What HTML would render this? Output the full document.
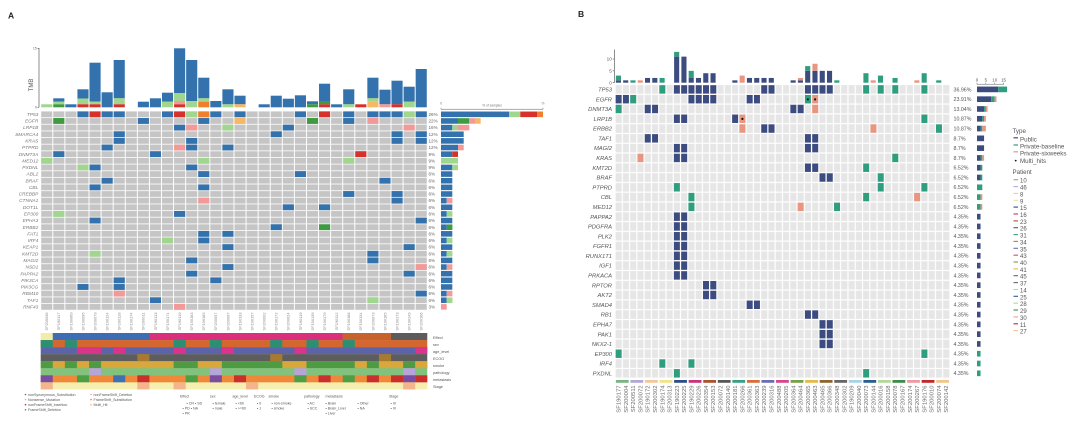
<!DOCTYPE html>
<html><head><meta charset="utf-8"><style>
html,body{margin:0;padding:0;background:#fff;width:1080px;height:426px;overflow:hidden}
svg{display:block;font-family:"Liberation Sans",Arial,sans-serif}
.ab{fill:#3372ad}.ar{fill:#d7312b}.alg{fill:#a0d68e}.ag{fill:#3f9b3f}.ap{fill:#f39a98}.ao{fill:#ef7f2c}.alo{fill:#f7b866}
.bn{fill:#3d4c80}.bt{fill:#2e9e7e}.bs{fill:#e99580}
.gi{font-style:italic}
</style></head><body>
<svg width="1080" height="426" viewBox="0 0 1080 426" xmlns="http://www.w3.org/2000/svg">
<defs>
<pattern id="pa" width="1" height="1" patternUnits="userSpaceOnUse"><rect x=".04" y=".06" width=".92" height=".88" fill="#c5c5c5"/></pattern>
<pattern id="pb" width="1" height="1" patternUnits="userSpaceOnUse"><rect x=".08" y=".06" width=".84" height=".88" fill="#e6e6e6"/></pattern>
<rect id="ca" x=".04" y=".06" width=".92" height=".88"/>
<rect id="cb" x=".09" y=".07" width=".82" height=".86"/>
</defs>

<!-- ============ PANEL A ============ -->
<text x="8" y="18.5" font-size="8.5" font-weight="bold" fill="#222">A</text>

<g stroke="#444" stroke-width=".6">
<line x1="39" y1="48" x2="39" y2="107.3"/>
<line x1="37.6" y1="48.3" x2="39" y2="48.3"/>
<line x1="37.6" y1="107.3" x2="39" y2="107.3"/>
</g>
<text x="36.8" y="49.6" font-size="3.5" text-anchor="end" fill="#666">15</text>
<text x="36.8" y="108.6" font-size="3.5" text-anchor="end" fill="#666">0</text>
<text transform="translate(33 85) rotate(-90)" font-size="6" text-anchor="middle" fill="#555">TMB</text>

<g transform="translate(40.7 0) scale(12.08 1)">
<rect class="alg" x=".04" y="104.3" width=".92" height="3"/>
<rect class="ab" x="1.04" y="98.3" width=".92" height="3.2"/><rect class="alg" x="1.04" y="101.5" width=".92" height="2.8"/><rect class="ag" x="1.04" y="104.3" width=".92" height="3"/>
<rect class="ab" x="2.04" y="104.3" width=".92" height="3"/>
<rect class="ab" x="3.04" y="89.3" width=".92" height="9.2"/><rect class="alg" x="3.04" y="98.5" width=".92" height="5.8"/><rect class="ar" x="3.04" y="104.3" width=".92" height="3"/>
<rect class="ab" x="4.04" y="62.7" width=".92" height="38.8"/><rect class="alg" x="4.04" y="101.5" width=".92" height="2.8"/><rect class="ar" x="4.04" y="104.3" width=".92" height="3"/>
<rect class="ab" x="5.04" y="92.3" width=".92" height="15"/>
<rect class="ab" x="6.04" y="60" width=".92" height="38.3"/><rect class="alg" x="6.04" y="98.3" width=".92" height="6"/><rect class="ar" x="6.04" y="104.3" width=".92" height="3"/>
<rect class="ab" x="8.04" y="101.7" width=".92" height="5.6"/>
<rect class="ab" x="9.04" y="98.3" width=".92" height="9"/>
<rect class="ab" x="10.04" y="92.7" width=".92" height="9"/><rect class="alg" x="10.04" y="101.7" width=".92" height="5.6"/>
<rect class="ab" x="11.04" y="48.3" width=".92" height="44.7"/><rect class="alg" x="11.04" y="93" width=".92" height="8"/><rect class="ap" x="11.04" y="101" width=".92" height="3.3"/><rect class="ar" x="11.04" y="104.3" width=".92" height="3"/>
<rect class="ab" x="12.04" y="60" width=".92" height="41"/><rect class="alg" x="12.04" y="101" width=".92" height="6.3"/>
<rect class="ab" x="13.04" y="77.7" width=".92" height="20.6"/><rect class="alg" x="13.04" y="98.3" width=".92" height="3.4"/><rect class="ao" x="13.04" y="101.7" width=".92" height="5.6"/>
<rect class="ab" x="14.04" y="101" width=".92" height="6.3"/>
<rect class="ab" x="15.04" y="89.3" width=".92" height="15"/><rect class="alg" x="15.04" y="104.3" width=".92" height="3"/>
<rect class="ab" x="16.04" y="95.7" width=".92" height="8.6"/><rect class="alo" x="16.04" y="104.3" width=".92" height="3"/>
<rect class="ab" x="18.04" y="104.3" width=".92" height="3"/>
<rect class="ab" x="19.04" y="95.7" width=".92" height="11.6"/>
<rect class="ab" x="20.04" y="98.7" width=".92" height="8.6"/>
<rect class="ab" x="21.04" y="95.3" width=".92" height="12"/>
<rect class="ab" x="22.04" y="101.3" width=".92" height="3"/><rect class="ag" x="22.04" y="104.3" width=".92" height="3"/>
<rect class="ab" x="23.04" y="83.7" width=".92" height="17.3"/><rect class="ag" x="23.04" y="101" width=".92" height="3.3"/><rect class="ar" x="23.04" y="104.3" width=".92" height="3"/>
<rect class="ab" x="24.04" y="104.3" width=".92" height="3"/>
<rect class="ab" x="25.04" y="89.3" width=".92" height="15"/><rect class="alg" x="25.04" y="104.3" width=".92" height="3"/>
<rect class="ar" x="26.04" y="104.3" width=".92" height="3"/>
<rect class="ab" x="27.04" y="77.7" width=".92" height="20.6"/><rect class="alg" x="27.04" y="98.3" width=".92" height="3.4"/><rect class="alo" x="27.04" y="101.7" width=".92" height="5.6"/>
<rect class="ab" x="28.04" y="89.7" width=".92" height="14.6"/><rect class="ap" x="28.04" y="104.3" width=".92" height="3"/>
<rect class="ab" x="29.04" y="80.7" width=".92" height="23.6"/><rect class="ar" x="29.04" y="104.3" width=".92" height="3"/>
<rect class="ab" x="30.04" y="86.7" width=".92" height="15"/><rect class="alg" x="30.04" y="101.7" width=".92" height="5.6"/>
<rect class="ab" x="31.04" y="69" width=".92" height="38.3"/>
</g>

<g transform="translate(40.7 111) scale(12.08 6.64)">
<rect width="32" height="30" fill="url(#pa)"/>
<g class="ab">
<use href="#ca" x="3" y="0"/><use href="#ca" x="5" y="0"/><use href="#ca" x="6" y="0"/><use href="#ca" x="10" y="0"/><use href="#ca" x="14" y="0"/><use href="#ca" x="16" y="0"/><use href="#ca" x="21" y="0"/><use href="#ca" x="25" y="0"/><use href="#ca" x="27" y="0"/><use href="#ca" x="28" y="0"/><use href="#ca" x="29" y="0"/><use href="#ca" x="31" y="0"/>
<use href="#ca" x="8" y="1"/><use href="#ca" x="13" y="1"/><use href="#ca" x="25" y="1"/>
<use href="#ca" x="11" y="2"/><use href="#ca" x="20" y="2"/>
<use href="#ca" x="6" y="3"/><use href="#ca" x="19" y="3"/><use href="#ca" x="29" y="3"/><use href="#ca" x="31" y="3"/>
<use href="#ca" x="6" y="4"/><use href="#ca" x="12" y="4"/><use href="#ca" x="29" y="4"/><use href="#ca" x="31" y="4"/>
<use href="#ca" x="5" y="5"/><use href="#ca" x="12" y="5"/><use href="#ca" x="15" y="5"/>
<use href="#ca" x="1" y="6"/><use href="#ca" x="9" y="6"/>
<use href="#ca" x="4" y="8"/><use href="#ca" x="12" y="8"/>
<use href="#ca" x="13" y="9"/><use href="#ca" x="21" y="9"/>
<use href="#ca" x="5" y="10"/><use href="#ca" x="28" y="10"/>
<use href="#ca" x="4" y="11"/><use href="#ca" x="13" y="11"/>
<use href="#ca" x="25" y="12"/><use href="#ca" x="29" y="12"/>
<use href="#ca" x="29" y="13"/>
<use href="#ca" x="20" y="14"/><use href="#ca" x="23" y="14"/>
<use href="#ca" x="11" y="15"/>
<use href="#ca" x="4" y="16"/><use href="#ca" x="31" y="16"/>
<use href="#ca" x="19" y="17"/>
<use href="#ca" x="13" y="18"/><use href="#ca" x="15" y="18"/>
<use href="#ca" x="13" y="19"/>
<use href="#ca" x="15" y="20"/><use href="#ca" x="30" y="20"/>
<use href="#ca" x="27" y="21"/>
<use href="#ca" x="12" y="22"/><use href="#ca" x="27" y="22"/>
<use href="#ca" x="15" y="23"/>
<use href="#ca" x="12" y="24"/><use href="#ca" x="30" y="24"/>
<use href="#ca" x="6" y="25"/><use href="#ca" x="14" y="25"/>
<use href="#ca" x="3" y="26"/><use href="#ca" x="6" y="26"/>
<use href="#ca" x="31" y="27"/>
<use href="#ca" x="9" y="28"/>
</g>
<g class="ar"><use href="#ca" x="4" y="0"/><use href="#ca" x="11" y="0"/><use href="#ca" x="23" y="0"/><use href="#ca" x="26" y="6"/></g>
<g class="alg"><use href="#ca" x="12" y="0"/><use href="#ca" x="30" y="0"/><use href="#ca" x="15" y="2"/><use href="#ca" x="0" y="7"/><use href="#ca" x="13" y="7"/><use href="#ca" x="25" y="7"/><use href="#ca" x="3" y="8"/><use href="#ca" x="1" y="15"/><use href="#ca" x="10" y="19"/><use href="#ca" x="4" y="21"/><use href="#ca" x="27" y="28"/></g>
<g class="ag"><use href="#ca" x="1" y="1"/><use href="#ca" x="22" y="1"/><use href="#ca" x="23" y="17"/></g>
<g class="ap"><use href="#ca" x="27" y="1"/><use href="#ca" x="12" y="2"/><use href="#ca" x="30" y="2"/><use href="#ca" x="11" y="5"/><use href="#ca" x="13" y="13"/><use href="#ca" x="31" y="23"/><use href="#ca" x="6" y="27"/><use href="#ca" x="11" y="29"/></g>
<g class="ao"><use href="#ca" x="13" y="0"/></g>
<g class="alo"><use href="#ca" x="16" y="1"/></g>
</g>

<g font-size="4.8" fill="#777" text-anchor="end" class="gi">
<text x="38.3" y="115.9">TP53</text><text x="38.3" y="122.6">EGFR</text><text x="38.3" y="129.2">LRP1B</text><text x="38.3" y="135.8">SMARCA4</text><text x="38.3" y="142.5">KRAS</text><text x="38.3" y="149.1">PTPRD</text><text x="38.3" y="155.8">DNMT3A</text><text x="38.3" y="162.4">MED12</text><text x="38.3" y="169">PXDNL</text><text x="38.3" y="175.7">ABL2</text><text x="38.3" y="182.3">BRAF</text><text x="38.3" y="189">CBL</text><text x="38.3" y="195.6">CREBBP</text><text x="38.3" y="202.2">CTNNA1</text><text x="38.3" y="208.9">DOT1L</text><text x="38.3" y="215.5">EP300</text><text x="38.3" y="222.2">EPHA3</text><text x="38.3" y="228.8">ERBB2</text><text x="38.3" y="235.4">FAT1</text><text x="38.3" y="242.1">IRF4</text><text x="38.3" y="248.7">KEAP1</text><text x="38.3" y="255.4">KMT2D</text><text x="38.3" y="262">MAGI2</text><text x="38.3" y="268.6">NSD1</text><text x="38.3" y="275.3">PAPPA2</text><text x="38.3" y="281.9">PIK3CA</text><text x="38.3" y="288.6">PIK3CG</text><text x="38.3" y="295.2">RBM10</text><text x="38.3" y="301.8">TAF1</text><text x="38.3" y="308.5">RNF43</text>
</g>

<g font-size="4.6" fill="#666">
<text x="428.5" y="115.9">26%</text><text x="428.5" y="122.6">22%</text><text x="428.5" y="129.2">16%</text><text x="428.5" y="135.8">12%</text><text x="428.5" y="142.5">12%</text><text x="428.5" y="149.1">12%</text><text x="428.5" y="155.8">9%</text><text x="428.5" y="162.4">9%</text><text x="428.5" y="169">9%</text><text x="428.5" y="175.7">6%</text><text x="428.5" y="182.3">6%</text><text x="428.5" y="189">6%</text><text x="428.5" y="195.6">6%</text><text x="428.5" y="202.2">6%</text><text x="428.5" y="208.9">6%</text><text x="428.5" y="215.5">6%</text><text x="428.5" y="222.2">6%</text><text x="428.5" y="228.8">6%</text><text x="428.5" y="235.4">6%</text><text x="428.5" y="242.1">6%</text><text x="428.5" y="248.7">6%</text><text x="428.5" y="255.4">6%</text><text x="428.5" y="262">6%</text><text x="428.5" y="268.6">6%</text><text x="428.5" y="275.3">6%</text><text x="428.5" y="281.9">6%</text><text x="428.5" y="288.6">6%</text><text x="428.5" y="295.2">6%</text><text x="428.5" y="301.8">6%</text><text x="428.5" y="308.5">3%</text>
</g>

<g stroke="#555" stroke-width=".5">
<line x1="441" y1="109.2" x2="543" y2="109.2"/><line x1="441" y1="107.8" x2="441" y2="109.2"/><line x1="543" y1="107.8" x2="543" y2="109.2"/>
</g>
<text x="441" y="104.5" font-size="3.3" text-anchor="middle" fill="#777">0</text>
<text x="492" y="106.5" font-size="3.3" text-anchor="middle" fill="#777">% of samples</text>
<text x="543" y="104.5" font-size="3.3" text-anchor="middle" fill="#777">%</text>

<g transform="translate(0 111) scale(1 6.64)">
<rect class="ab" x="441" y=".08" width="68" height=".84"/><rect class="alg" x="509" y=".08" width="11.3" height=".84"/><rect class="ar" x="520.3" y=".08" width="17" height=".84"/><rect class="ao" x="537.3" y=".08" width="5.7" height=".84"/>
<rect class="ab" x="441" y="1.08" width="17" height=".84"/><rect class="ag" x="458" y="1.08" width="11.3" height=".84"/><rect class="ap" x="469.3" y="1.08" width="5.7" height=".84"/><rect class="alo" x="475" y="1.08" width="5.7" height=".84"/>
<rect class="ab" x="441" y="2.08" width="11.3" height=".84"/><rect class="alg" x="452.3" y="2.08" width="5.7" height=".84"/><rect class="ap" x="458" y="2.08" width="11.3" height=".84"/>
<rect class="ab" x="441" y="3.08" width="22.7" height=".84"/>
<rect class="ab" x="441" y="4.08" width="22.7" height=".84"/>
<rect class="ab" x="441" y="5.08" width="17" height=".84"/><rect class="ap" x="458" y="5.08" width="5.7" height=".84"/>
<rect class="ab" x="441" y="6.08" width="11.3" height=".84"/><rect class="ar" x="452.3" y="6.08" width="5.7" height=".84"/>
<rect class="alg" x="441" y="7.08" width="17" height=".84"/>
<rect class="ab" x="441" y="8.08" width="11.3" height=".84"/><rect class="alg" x="452.3" y="8.08" width="5.7" height=".84"/>
<rect class="ab" x="441" y="9.08" width="11.3" height=".84"/>
<rect class="ab" x="441" y="10.08" width="11.3" height=".84"/>
<rect class="ab" x="441" y="11.08" width="11.3" height=".84"/>
<rect class="ab" x="441" y="12.08" width="11.3" height=".84"/>
<rect class="ab" x="441" y="13.08" width="5.7" height=".84"/><rect class="ap" x="446.7" y="13.08" width="5.7" height=".84"/>
<rect class="ab" x="441" y="14.08" width="11.3" height=".84"/>
<rect class="ab" x="441" y="15.08" width="5.7" height=".84"/><rect class="alg" x="446.7" y="15.08" width="5.7" height=".84"/>
<rect class="ab" x="441" y="16.08" width="11.3" height=".84"/>
<rect class="ab" x="441" y="17.08" width="5.7" height=".84"/><rect class="ag" x="446.7" y="17.08" width="5.7" height=".84"/>
<rect class="ab" x="441" y="18.08" width="11.3" height=".84"/>
<rect class="ab" x="441" y="19.08" width="5.7" height=".84"/><rect class="alg" x="446.7" y="19.08" width="5.7" height=".84"/>
<rect class="ab" x="441" y="20.08" width="11.3" height=".84"/>
<rect class="ab" x="441" y="21.08" width="5.7" height=".84"/><rect class="alg" x="446.7" y="21.08" width="5.7" height=".84"/>
<rect class="ab" x="441" y="22.08" width="11.3" height=".84"/>
<rect class="ab" x="441" y="23.08" width="5.7" height=".84"/><rect class="ap" x="446.7" y="23.08" width="5.7" height=".84"/>
<rect class="ab" x="441" y="24.08" width="11.3" height=".84"/>
<rect class="ab" x="441" y="25.08" width="11.3" height=".84"/>
<rect class="ab" x="441" y="26.08" width="11.3" height=".84"/>
<rect class="ab" x="441" y="27.08" width="5.7" height=".84"/><rect class="ap" x="446.7" y="27.08" width="5.7" height=".84"/>
<rect class="ab" x="441" y="28.08" width="5.7" height=".84"/><rect class="alg" x="446.7" y="28.08" width="5.7" height=".84"/>
<rect class="ap" x="441" y="29.08" width="5.7" height=".84"/>
</g>

<g transform="translate(0 312.5) rotate(-90)" font-size="3.9" fill="#888" text-anchor="end">
<text x="0" y="48.1">SF200036</text><text x="0" y="60.2">SF190117</text><text x="0" y="72.3">SF190069</text><text x="0" y="84.3">SF190095</text><text x="0" y="96.4">SF200079</text><text x="0" y="108.5">SF190124</text><text x="0" y="120.6">SF200118</text><text x="0" y="132.7">SF190174</text><text x="0" y="144.7">SF200011</text><text x="0" y="156.8">SF190113</text><text x="0" y="168.9">SF190174</text><text x="0" y="181">SF190119</text><text x="0" y="193.1">SF190163</text><text x="0" y="205.1">SF190165</text><text x="0" y="217.2">SF200057</text><text x="0" y="229.3">SF200097</text><text x="0" y="241.4">SF190133</text><text x="0" y="253.5">SF190157</text><text x="0" y="265.5">SF200002</text><text x="0" y="277.6">SF190172</text><text x="0" y="289.7">SF200024</text><text x="0" y="301.8">SF190119</text><text x="0" y="313.9">SF190139</text><text x="0" y="325.9">SF190179</text><text x="0" y="338">SF190112</text><text x="0" y="350.1">SF190168</text><text x="0" y="362.2">SF190134</text><text x="0" y="374.3">SF200073</text><text x="0" y="386.3">SF190165</text><text x="0" y="398.4">SF190173</text><text x="0" y="410.5">SF190149</text><text x="0" y="422.6">SF200166</text>
</g>

<g transform="translate(40.7 333) scale(12.08 7.05)">
<rect x="0" y="0" width="1.02" height="1.02" fill="#f1eca6"/>
<rect x="1" y="0" width="8.02" height="1.02" fill="#3d6db2"/>
<rect x="9" y="0" width="16.02" height="1.02" fill="#d9307c"/>
<rect x="25" y="0" width="4.02" height="1.02" fill="#c8622c"/>
<rect x="29" y="0" width="3" height="1.02" fill="#5c5c5c"/>
<rect x="0" y="1" width="32" height="1.02" fill="#d4662f"/>
<g fill="#2c8f74"><rect x="0" y="1" width="1" height="1.02"/><rect x="2" y="1" width="1" height="1.02"/><rect x="11" y="1" width="1" height="1.02"/><rect x="14" y="1" width="1" height="1.02"/><rect x="19" y="1" width="1" height="1.02"/><rect x="22" y="1" width="1" height="1.02"/><rect x="25" y="1" width="1" height="1.02"/></g>
<rect x="0" y="2" width="32" height="1.02" fill="#5c63a8"/>
<g fill="#d7348a"><rect x="3" y="2" width="2" height="1.02"/><rect x="6" y="2" width="1" height="1.02"/><rect x="11" y="2" width="1" height="1.02"/><rect x="15" y="2" width="1" height="1.02"/><rect x="21" y="2" width="1" height="1.02"/><rect x="31" y="2" width="1" height="1.02"/></g>
<rect x="0" y="3" width="32" height="1.02" fill="#5d5d5d"/>
<g fill="#a87a31"><rect x="8" y="3" width="1" height="1.02"/><rect x="19" y="3" width="1" height="1.02"/><rect x="28" y="3" width="1" height="1.02"/></g>
<rect x="0" y="4" width="32" height="1.02" fill="#4f9b44"/>
<g fill="#d8a83c"><rect x="1" y="4" width="1" height="1.02"/><rect x="3" y="4" width="1" height="1.02"/><rect x="5" y="4" width="6" height="1.02"/><rect x="13" y="4" width="2" height="1.02"/><rect x="20" y="4" width="2" height="1.02"/><rect x="26" y="4" width="1" height="1.02"/><rect x="28" y="4" width="2" height="1.02"/><rect x="31" y="4" width="1" height="1.02"/></g>
<rect x="0" y="5" width="32" height="1.02" fill="#82c27d"/>
<g fill="#b7a4d8"><rect x="4" y="5" width="1" height="1.02"/><rect x="14" y="5" width="1" height="1.02"/><rect x="21" y="5" width="1" height="1.02"/><rect x="30" y="5" width="1" height="1.02"/></g>
<rect x="0" y="6" width="32" height="1.02" fill="#ef8838"/>
<g fill="#7a4e9f"><rect x="0" y="6" width="1" height="1.02"/><rect x="14" y="6" width="1" height="1.02"/><rect x="30" y="6" width="1" height="1.02"/></g>
<g fill="#4e9e45"><rect x="3" y="6" width="1" height="1.02"/><rect x="12" y="6" width="1" height="1.02"/><rect x="21" y="6" width="1" height="1.02"/><rect x="25" y="6" width="1" height="1.02"/></g>
<rect x="6" y="6" width="1" height="1.02" fill="#3f70b2"/>
<g fill="#cb2f2b"><rect x="8" y="6" width="1" height="1.02"/><rect x="16" y="6" width="1" height="1.02"/><rect x="23" y="6" width="1" height="1.02"/><rect x="27" y="6" width="1" height="1.02"/><rect x="29" y="6" width="1" height="1.02"/><rect x="31" y="6" width="1" height="1.02"/></g>
<rect x="0" y="7" width="32" height="1" fill="#f6efb0"/>
<g fill="#f4b48c"><rect x="0" y="7" width="1" height="1"/><rect x="8" y="7" width="1" height="1"/><rect x="11" y="7" width="1" height="1"/><rect x="17" y="7" width="1" height="1"/><rect x="30" y="7" width="1" height="1"/></g>
</g>
<g font-size="3.8" fill="#555">
<text x="433" y="338.8">Effect</text><text x="433" y="345.8">sex</text><text x="433" y="352.9">age_level</text><text x="433" y="359.9">ECOG</text><text x="433" y="367">smoke</text><text x="433" y="374">pathology</text><text x="433" y="381.1">metastasis</text><text x="433" y="388.1">Stage</text>
</g>

<g font-size="3.6" fill="#555">
<circle cx="25.5" cy="394.5" r=".8" fill="#3372ad"/><text x="28" y="395.8">nonSynonymous_Substitution</text>
<circle cx="25.5" cy="399.6" r=".8" fill="#a0d68e"/><text x="28" y="400.9">Nonsense_Mutation</text>
<circle cx="25.5" cy="404.7" r=".8" fill="#d7312b"/><text x="28" y="406">nonFrameShift_Insertion</text>
<circle cx="25.5" cy="409.8" r=".8" fill="#3f9b3f"/><text x="28" y="411.1">FrameShift_Deletion</text>
<circle cx="91" cy="394.5" r=".8" fill="#f39a98"/><text x="93.5" y="395.8">nonFrameShift_Deletion</text>
<circle cx="91" cy="399.6" r=".8" fill="#ef7f2c"/><text x="93.5" y="400.9">FrameShift_Substitution</text>
<circle cx="91" cy="404.7" r=".8" fill="#f7b866"/><text x="93.5" y="406">Multi_Hit</text>

<text x="180" y="397.5">Effect</text><text x="210" y="397.5">sex</text><text x="232.5" y="397.5">age_level</text><text x="254" y="397.5">ECOG</text><text x="268.5" y="397.5">smoke</text><text x="304" y="397.5">pathology</text><text x="325.5" y="397.5">metastasis</text><text x="389" y="397.5">Stage</text>

<text x="186.5" y="404.3">• CR  • SD</text>
<text x="182.5" y="409.3">• PD  • NA</text>
<text x="182.5" y="414.3">• PR</text>
<text x="212.5" y="404.3">• female</text><text x="212.5" y="409.3">• male</text>
<text x="235.5" y="404.3">• &lt;60</text><text x="235.5" y="409.3">• &gt;=60</text>
<text x="257" y="404.3">• 0</text><text x="257" y="409.3">• 1</text>
<text x="271.5" y="404.3">• non-smoke</text><text x="271.5" y="409.3">• smoke</text>
<text x="307.5" y="404.3">• AC</text><text x="307.5" y="409.3">• SCC</text>
<text x="325.5" y="404.3">• Brain</text><text x="325.5" y="409.3">• Brain_Liver</text><text x="325.5" y="414.3">• Liver</text>
<text x="357.5" y="404.3">• Other</text><text x="357.5" y="409.3">• NA</text>
<text x="390.5" y="404.3">• III</text><text x="390.5" y="409.3">• IV</text>
</g>

<!-- ============ PANEL B ============ -->
<text x="578" y="17" font-size="8.5" font-weight="bold" fill="#222">B</text>

<g stroke="#444" stroke-width=".6">
<line x1="614.3" y1="49.5" x2="614.3" y2="82.7"/>
<line x1="612.8" y1="59" x2="614.3" y2="59"/><line x1="612.8" y1="70.85" x2="614.3" y2="70.85"/><line x1="612.8" y1="82.7" x2="614.3" y2="82.7"/>
</g>
<g font-size="4.6" fill="#555" text-anchor="end">
<text x="611.8" y="60.6">10</text><text x="611.8" y="72.4">5</text><text x="611.8" y="84.3">0</text>
</g>

<g transform="translate(615 82.7) scale(7.28 -2.37)">
<g class="bn">
<rect x=".12" y="0" width=".7" height="1"/><rect x="1.12" y="0" width=".7" height="1"/><rect x="4.12" y="0" width=".7" height="2"/><rect x="5.12" y="0" width=".7" height="2"/><rect x="8.12" y="0" width=".7" height="11"/><rect x="9.12" y="0" width=".7" height="11"/><rect x="10.12" y="0" width=".7" height="2"/><rect x="11.12" y="0" width=".7" height="2"/><rect x="12.12" y="0" width=".7" height="4"/><rect x="13.12" y="0" width=".7" height="4"/><rect x="16.12" y="0" width=".7" height="1"/><rect x="18.12" y="0" width=".7" height="2"/><rect x="19.12" y="0" width=".7" height="2"/><rect x="20.12" y="0" width=".7" height="2"/><rect x="21.12" y="0" width=".7" height="2"/><rect x="24.12" y="0" width=".7" height="1"/><rect x="25.12" y="0" width=".7" height="1"/><rect x="26.12" y="0" width=".7" height="5"/><rect x="27.12" y="0" width=".7" height="5"/><rect x="28.12" y="0" width=".7" height="5"/><rect x="29.12" y="0" width=".7" height="5"/>
</g>
<g class="bt">
<rect x=".12" y="1" width=".7" height="2"/><rect x="2.12" y="0" width=".7" height="1"/><rect x="6.12" y="0" width=".7" height="2"/><rect x="8.12" y="11" width=".7" height="2"/><rect x="10.12" y="2" width=".7" height="3"/><rect x="26.12" y="5" width=".7" height="2"/><rect x="30.12" y="0" width=".7" height="1"/><rect x="34.12" y="0" width=".7" height="4"/><rect x="36.12" y="0" width=".7" height="3"/><rect x="38.12" y="0" width=".7" height="2"/><rect x="42.12" y="0" width=".7" height="4"/><rect x="44.12" y="0" width=".7" height="1"/>
</g>
<g class="bs">
<rect x="3.12" y="0" width=".7" height="1"/><rect x="17.12" y="0" width=".7" height="3"/><rect x="25.12" y="1" width=".7" height="1"/><rect x="27.12" y="5" width=".7" height="3"/><rect x="35.12" y="0" width=".7" height="1"/><rect x="41.12" y="0" width=".7" height="1"/>
</g>
</g>

<g transform="translate(615 84.5) scale(7.28 9.79)">
<rect width="46" height="30" fill="url(#pb)"/>
<g class="bn">
<use href="#cb" x="8" y="0"/><use href="#cb" x="9" y="0"/><use href="#cb" x="10" y="0"/><use href="#cb" x="11" y="0"/><use href="#cb" x="12" y="0"/><use href="#cb" x="13" y="0"/><use href="#cb" x="20" y="0"/><use href="#cb" x="21" y="0"/><use href="#cb" x="26" y="0"/><use href="#cb" x="27" y="0"/><use href="#cb" x="28" y="0"/><use href="#cb" x="29" y="0"/>
<use href="#cb" x="0" y="1"/><use href="#cb" x="1" y="1"/><use href="#cb" x="10" y="1"/><use href="#cb" x="11" y="1"/><use href="#cb" x="12" y="1"/><use href="#cb" x="13" y="1"/><use href="#cb" x="18" y="1"/><use href="#cb" x="19" y="1"/>
<use href="#cb" x="4" y="2"/><use href="#cb" x="5" y="2"/><use href="#cb" x="24" y="2"/><use href="#cb" x="25" y="2"/>
<use href="#cb" x="8" y="3"/><use href="#cb" x="9" y="3"/><use href="#cb" x="16" y="3"/>
<use href="#cb" x="20" y="4"/><use href="#cb" x="21" y="4"/>
<use href="#cb" x="4" y="5"/><use href="#cb" x="5" y="5"/><use href="#cb" x="26" y="5"/><use href="#cb" x="27" y="5"/>
<use href="#cb" x="8" y="6"/><use href="#cb" x="9" y="6"/><use href="#cb" x="26" y="6"/><use href="#cb" x="27" y="6"/>
<use href="#cb" x="8" y="7"/><use href="#cb" x="9" y="7"/>
<use href="#cb" x="26" y="8"/><use href="#cb" x="27" y="8"/>
<use href="#cb" x="28" y="9"/><use href="#cb" x="29" y="9"/>
<use href="#cb" x="8" y="13"/><use href="#cb" x="9" y="13"/>
<use href="#cb" x="8" y="14"/><use href="#cb" x="9" y="14"/>
<use href="#cb" x="8" y="15"/><use href="#cb" x="9" y="15"/>
<use href="#cb" x="8" y="16"/><use href="#cb" x="9" y="16"/>
<use href="#cb" x="8" y="17"/><use href="#cb" x="9" y="17"/>
<use href="#cb" x="8" y="18"/><use href="#cb" x="9" y="18"/>
<use href="#cb" x="8" y="19"/><use href="#cb" x="9" y="19"/>
<use href="#cb" x="12" y="20"/><use href="#cb" x="13" y="20"/>
<use href="#cb" x="12" y="21"/><use href="#cb" x="13" y="21"/>
<use href="#cb" x="18" y="22"/><use href="#cb" x="19" y="22"/>
<use href="#cb" x="26" y="23"/><use href="#cb" x="27" y="23"/>
<use href="#cb" x="28" y="24"/><use href="#cb" x="29" y="24"/>
<use href="#cb" x="28" y="25"/><use href="#cb" x="29" y="25"/>
<use href="#cb" x="28" y="26"/><use href="#cb" x="29" y="26"/>
</g>
<g class="bt">
<use href="#cb" x="6" y="0"/><use href="#cb" x="34" y="0"/><use href="#cb" x="36" y="0"/><use href="#cb" x="38" y="0"/><use href="#cb" x="42" y="0"/>
<use href="#cb" x="2" y="1"/><use href="#cb" x="26" y="1"/>
<use href="#cb" x="0" y="2"/>
<use href="#cb" x="42" y="3"/>
<use href="#cb" x="44" y="4"/>
<use href="#cb" x="38" y="7"/>
<use href="#cb" x="34" y="8"/>
<use href="#cb" x="36" y="9"/>
<use href="#cb" x="8" y="10"/><use href="#cb" x="36" y="10"/><use href="#cb" x="42" y="10"/>
<use href="#cb" x="10" y="11"/><use href="#cb" x="34" y="11"/>
<use href="#cb" x="10" y="12"/><use href="#cb" x="30" y="12"/>
<use href="#cb" x="0" y="27"/><use href="#cb" x="42" y="27"/>
<use href="#cb" x="6" y="28"/><use href="#cb" x="10" y="28"/>
<use href="#cb" x="8" y="29"/><use href="#cb" x="34" y="29"/>
</g>
<g class="bs">
<use href="#cb" x="27" y="1"/>
<use href="#cb" x="27" y="2"/>
<use href="#cb" x="17" y="3"/>
<use href="#cb" x="17" y="4"/><use href="#cb" x="35" y="4"/>
<use href="#cb" x="3" y="7"/>
<use href="#cb" x="41" y="11"/>
<use href="#cb" x="25" y="12"/>
</g>
</g>
<g fill="#111">
<circle cx="807.8" cy="99.4" r="1.1"/><circle cx="815.1" cy="99.4" r="1.1"/><circle cx="742.4" cy="118.9" r="1.1"/>
</g>

<g font-size="5.8" fill="#555" text-anchor="end" class="gi">
<text x="612" y="91.5">TP53</text><text x="612" y="101.3">EGFR</text><text x="612" y="111.1">DNMT3A</text><text x="612" y="120.9">LRP1B</text><text x="612" y="130.7">ERBB2</text><text x="612" y="140.5">TAF1</text><text x="612" y="150.2">MAGI2</text><text x="612" y="160">KRAS</text><text x="612" y="169.8">KMT2D</text><text x="612" y="179.6">BRAF</text><text x="612" y="189.4">PTPRD</text><text x="612" y="199.2">CBL</text><text x="612" y="209">MED12</text><text x="612" y="218.8">PAPPA2</text><text x="612" y="228.6">PDGFRA</text><text x="612" y="238.4">PLK2</text><text x="612" y="248.1">FGFR1</text><text x="612" y="257.9">RUNX1T1</text><text x="612" y="267.7">IGF1</text><text x="612" y="277.5">PRKACA</text><text x="612" y="287.3">RPTOR</text><text x="612" y="297.1">AKT2</text><text x="612" y="306.9">SMAD4</text><text x="612" y="316.7">RB1</text><text x="612" y="326.5">EPHA7</text><text x="612" y="336.3">PAK1</text><text x="612" y="346">NKX2-1</text><text x="612" y="355.8">EP300</text><text x="612" y="365.6">IRF4</text><text x="612" y="375.4">PXDNL</text>
</g>

<g font-size="5.3" fill="#555">
<text x="953.5" y="91.3">36.96%</text><text x="953.5" y="101.1">23.91%</text><text x="953.5" y="110.9">13.04%</text><text x="953.5" y="120.7">10.87%</text><text x="953.5" y="130.5">10.87%</text><text x="953.5" y="140.3">8.7%</text><text x="953.5" y="150">8.7%</text><text x="953.5" y="159.8">8.7%</text><text x="953.5" y="169.6">6.52%</text><text x="953.5" y="179.4">6.52%</text><text x="953.5" y="189.2">6.52%</text><text x="953.5" y="199">6.52%</text><text x="953.5" y="208.8">6.52%</text><text x="953.5" y="218.6">4.35%</text><text x="953.5" y="228.4">4.35%</text><text x="953.5" y="238.2">4.35%</text><text x="953.5" y="247.9">4.35%</text><text x="953.5" y="257.7">4.35%</text><text x="953.5" y="267.5">4.35%</text><text x="953.5" y="277.3">4.35%</text><text x="953.5" y="287.1">4.35%</text><text x="953.5" y="296.9">4.35%</text><text x="953.5" y="306.7">4.35%</text><text x="953.5" y="316.5">4.35%</text><text x="953.5" y="326.3">4.35%</text><text x="953.5" y="336.1">4.35%</text><text x="953.5" y="345.8">4.35%</text><text x="953.5" y="355.6">4.35%</text><text x="953.5" y="365.4">4.35%</text><text x="953.5" y="375.2">4.35%</text>
</g>

<g stroke="#555" stroke-width=".5">
<line x1="977" y1="84.2" x2="1004" y2="84.2"/>
<line x1="977" y1="82.8" x2="977" y2="84.2"/><line x1="985.85" y1="82.8" x2="985.85" y2="84.2"/><line x1="994.7" y1="82.8" x2="994.7" y2="84.2"/><line x1="1003.55" y1="82.8" x2="1003.55" y2="84.2"/>
</g>
<g font-size="4.4" fill="#555" text-anchor="middle">
<text x="977" y="81.5">0</text><text x="985.85" y="81.5">5</text><text x="994.7" y="81.5">10</text><text x="1003.55" y="81.5">15</text>
</g>
<g transform="translate(977 84.5) scale(1.77 9.79)">
<g class="bn">
<rect x="0" y=".21" width="12" height=".58"/><rect x="0" y="1.21" width="8" height=".58"/><rect x="0" y="2.21" width="4" height=".58"/><rect x="0" y="3.21" width="3" height=".58"/><rect x="0" y="4.21" width="2" height=".58"/><rect x="0" y="5.21" width="4" height=".58"/><rect x="0" y="6.21" width="4" height=".58"/><rect x="0" y="7.21" width="2" height=".58"/><rect x="0" y="8.21" width="2" height=".58"/><rect x="0" y="9.21" width="2" height=".58"/>
<rect x="0" y="13.21" width="2" height=".58"/><rect x="0" y="14.21" width="2" height=".58"/><rect x="0" y="15.21" width="2" height=".58"/><rect x="0" y="16.21" width="2" height=".58"/><rect x="0" y="17.21" width="2" height=".58"/><rect x="0" y="18.21" width="2" height=".58"/><rect x="0" y="19.21" width="2" height=".58"/><rect x="0" y="20.21" width="2" height=".58"/><rect x="0" y="21.21" width="2" height=".58"/><rect x="0" y="22.21" width="2" height=".58"/><rect x="0" y="23.21" width="2" height=".58"/><rect x="0" y="24.21" width="2" height=".58"/><rect x="0" y="25.21" width="2" height=".58"/><rect x="0" y="26.21" width="2" height=".58"/>
</g>
<g class="bt">
<rect x="12" y=".21" width="5" height=".58"/><rect x="8" y="1.21" width="2" height=".58"/><rect x="4" y="2.21" width="1" height=".58"/><rect x="3" y="3.21" width="1" height=".58"/><rect x="2" y="4.21" width="1" height=".58"/><rect x="2" y="7.21" width="1" height=".58"/><rect x="2" y="8.21" width="1" height=".58"/><rect x="2" y="9.21" width="1" height=".58"/><rect x="0" y="10.21" width="3" height=".58"/><rect x="0" y="11.21" width="2" height=".58"/><rect x="0" y="12.21" width="2" height=".58"/><rect x="0" y="27.21" width="2" height=".58"/><rect x="0" y="28.21" width="2" height=".58"/><rect x="0" y="29.21" width="2" height=".58"/>
</g>
<g class="bs">
<rect x="10" y="1.21" width="1" height=".58"/><rect x="5" y="2.21" width="1" height=".58"/><rect x="4" y="3.21" width="1" height=".58"/><rect x="3" y="4.21" width="2" height=".58"/><rect x="3" y="7.21" width="1" height=".58"/><rect x="2" y="11.21" width="1" height=".58"/><rect x="2" y="12.21" width="1" height=".58"/>
</g>
</g>

<g transform="translate(615 380) scale(14.56 1)">
<rect x=".06" width=".88" height="2.8" fill="#7bb583"/>
<rect x="1.06" width=".88" height="2.8" fill="#b3a9d6"/>
<rect x="2.06" width=".88" height="2.8" fill="#f3c79a"/>
<rect x="3.06" width=".88" height="2.8" fill="#f3e38c"/>
<rect x="4.06" width=".88" height="2.8" fill="#2e4e86"/>
<rect x="5.06" width=".88" height="2.8" fill="#c8337a"/>
<rect x="6.06" width=".88" height="2.8" fill="#a9532f"/>
<rect x="7.06" width=".88" height="2.8" fill="#595959"/>
<rect x="8.06" width=".88" height="2.8" fill="#3a9f86"/>
<rect x="9.06" width=".88" height="2.8" fill="#d86d3d"/>
<rect x="10.06" width=".88" height="2.8" fill="#6b6fb2"/>
<rect x="11.06" width=".88" height="2.8" fill="#d6488b"/>
<rect x="12.06" width=".88" height="2.8" fill="#77a04a"/>
<rect x="13.06" width=".88" height="2.8" fill="#e6b94b"/>
<rect x="14.06" width=".88" height="2.8" fill="#8e6532"/>
<rect x="15.06" width=".88" height="2.8" fill="#666666"/>
<rect x="16.06" width=".88" height="2.8" fill="#a6d3e6"/>
<rect x="17.06" width=".88" height="2.8" fill="#2a5f90"/>
<rect x="18.06" width=".88" height="2.8" fill="#b3d99a"/>
<rect x="19.06" width=".88" height="2.8" fill="#3d8c4a"/>
<rect x="20.06" width=".88" height="2.8" fill="#ef9aa0"/>
<rect x="21.06" width=".88" height="2.8" fill="#c3282b"/>
<rect x="22.06" width=".88" height="2.8" fill="#f2c589"/>
</g>

<g transform="translate(0 385.5) rotate(-90)" font-size="5.9" fill="#6a6a6a" text-anchor="end">
<text x="0" y="620.6">SF190177</text><text x="0" y="627.9">SF200004</text><text x="0" y="635.2">SF200511</text><text x="0" y="642.4">SF200072</text><text x="0" y="649.7">SF190172</text><text x="0" y="657">SF200302</text><text x="0" y="664.3">SF190174</text><text x="0" y="671.6">SF200313</text><text x="0" y="678.8">SF190223</text><text x="0" y="686.1">SF200225</text><text x="0" y="693.4">SF190229</text><text x="0" y="700.7">SF200226</text><text x="0" y="708">SF200354</text><text x="0" y="715.2">SF200153</text><text x="0" y="722.5">SF200072</text><text x="0" y="729.8">SF200140</text><text x="0" y="737.1">SF200181</text><text x="0" y="744.4">SF200266</text><text x="0" y="751.6">SF200361</text><text x="0" y="758.9">SF200363</text><text x="0" y="766.2">SF200239</text><text x="0" y="773.5">SF200316</text><text x="0" y="780.8">SF200488</text><text x="0" y="788">SF200205</text><text x="0" y="795.3">SF200364</text><text x="0" y="802.6">SF200464</text><text x="0" y="809.9">SF200365</text><text x="0" y="817.2">SF200463</text><text x="0" y="824.4">SF200465</text><text x="0" y="831.7">SF200366</text><text x="0" y="839">SF200348</text><text x="0" y="846.3">SF200302</text><text x="0" y="853.6">SF190209</text><text x="0" y="860.8">SF200040</text><text x="0" y="868.1">SF200073</text><text x="0" y="875.4">SF200144</text><text x="0" y="882.7">SF200016</text><text x="0" y="890">SF200158</text><text x="0" y="897.2">SF200078</text><text x="0" y="904.5">SF200167</text><text x="0" y="911.8">SF200174</text><text x="0" y="919.1">SF200267</text><text x="0" y="926.4">SF190176</text><text x="0" y="933.6">SF200010</text><text x="0" y="940.9">SF200074</text><text x="0" y="948.2">SF200142</text>
</g>

<g font-size="6.2" fill="#555">
<text x="1012.5" y="133">Type</text>
<line x1="1013.5" y1="137.8" x2="1018" y2="137.8" stroke="#3d4c80" stroke-width="1.2"/><text x="1020" y="141.5">Public</text>
<line x1="1013.5" y1="145" x2="1018" y2="145" stroke="#2e9e7e" stroke-width="1.2"/><text x="1020" y="148.7">Private-baseline</text>
<line x1="1013.5" y1="151.8" x2="1018" y2="151.8" stroke="#e99580" stroke-width="1.2"/><text x="1020" y="155.5">Private-sixweeks</text>
<circle cx="1015.7" cy="160.6" r=".9" fill="#111"/><text x="1020" y="162.8">Multi_hits</text>
<text x="1012.5" y="174">Patient</text>
</g>
<g stroke-width="1.1">
<line x1="1013.5" y1="179.7" x2="1018" y2="179.7" stroke="#7bb583"/>
<line x1="1013.5" y1="186.6" x2="1018" y2="186.6" stroke="#b3a9d6"/>
<line x1="1013.5" y1="193.4" x2="1018" y2="193.4" stroke="#f3c79a"/>
<line x1="1013.5" y1="200.3" x2="1018" y2="200.3" stroke="#f3e38c"/>
<line x1="1013.5" y1="207.1" x2="1018" y2="207.1" stroke="#2e4e86"/>
<line x1="1013.5" y1="214" x2="1018" y2="214" stroke="#c8337a"/>
<line x1="1013.5" y1="220.9" x2="1018" y2="220.9" stroke="#a9532f"/>
<line x1="1013.5" y1="227.7" x2="1018" y2="227.7" stroke="#595959"/>
<line x1="1013.5" y1="234.6" x2="1018" y2="234.6" stroke="#3a9f86"/>
<line x1="1013.5" y1="241.4" x2="1018" y2="241.4" stroke="#d86d3d"/>
<line x1="1013.5" y1="248.3" x2="1018" y2="248.3" stroke="#6b6fb2"/>
<line x1="1013.5" y1="255.2" x2="1018" y2="255.2" stroke="#d6488b"/>
<line x1="1013.5" y1="262" x2="1018" y2="262" stroke="#77a04a"/>
<line x1="1013.5" y1="268.9" x2="1018" y2="268.9" stroke="#e6b94b"/>
<line x1="1013.5" y1="275.7" x2="1018" y2="275.7" stroke="#8e6532"/>
<line x1="1013.5" y1="282.6" x2="1018" y2="282.6" stroke="#666666"/>
<line x1="1013.5" y1="289.5" x2="1018" y2="289.5" stroke="#a6d3e6"/>
<line x1="1013.5" y1="296.3" x2="1018" y2="296.3" stroke="#2a5f90"/>
<line x1="1013.5" y1="303.2" x2="1018" y2="303.2" stroke="#b3d99a"/>
<line x1="1013.5" y1="310" x2="1018" y2="310" stroke="#3d8c4a"/>
<line x1="1013.5" y1="316.9" x2="1018" y2="316.9" stroke="#ef9aa0"/>
<line x1="1013.5" y1="323.8" x2="1018" y2="323.8" stroke="#c3282b"/>
<line x1="1013.5" y1="330.6" x2="1018" y2="330.6" stroke="#f2c589"/>
</g>
<g font-size="6" fill="#555">
<text x="1020" y="182.7">10</text><text x="1020" y="189.6">46</text><text x="1020" y="196.4">8</text><text x="1020" y="203.3">9</text><text x="1020" y="210.1">15</text><text x="1020" y="217">16</text><text x="1020" y="223.9">23</text><text x="1020" y="230.7">26</text><text x="1020" y="237.6">31</text><text x="1020" y="244.4">34</text><text x="1020" y="251.3">35</text><text x="1020" y="258.2">43</text><text x="1020" y="265">40</text><text x="1020" y="271.9">41</text><text x="1020" y="278.7">45</text><text x="1020" y="285.6">37</text><text x="1020" y="292.5">14</text><text x="1020" y="299.3">25</text><text x="1020" y="306.2">28</text><text x="1020" y="313">29</text><text x="1020" y="319.9">30</text><text x="1020" y="326.8">11</text><text x="1020" y="333.6">27</text>
</g>
</svg>
</body></html>
